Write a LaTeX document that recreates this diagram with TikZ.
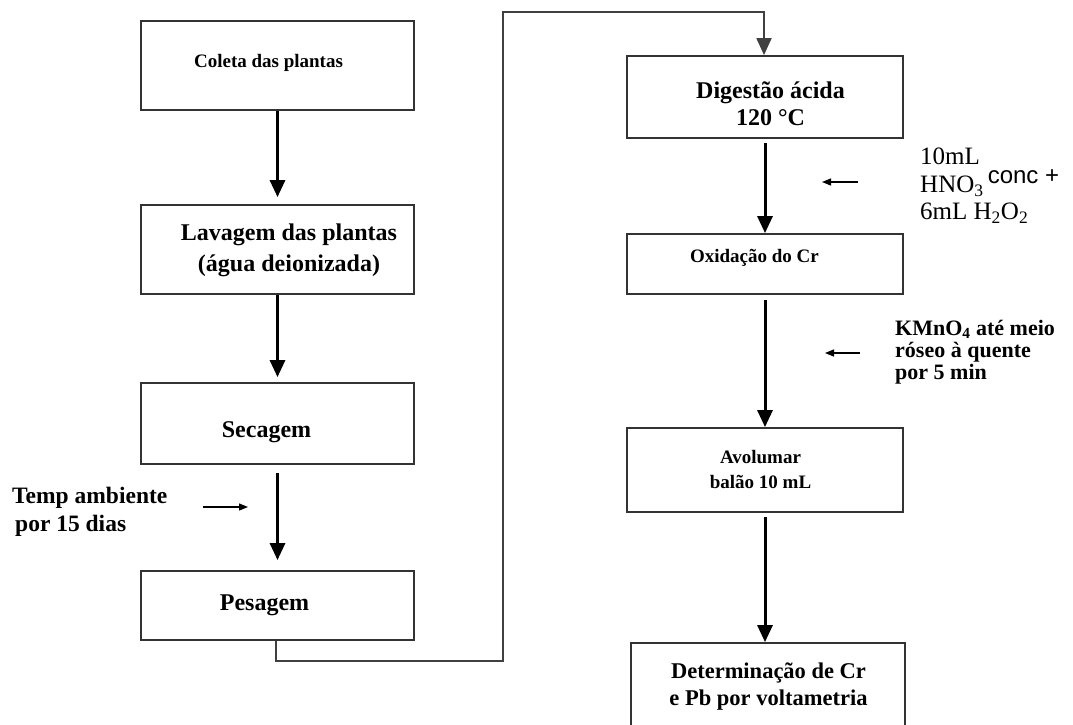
\documentclass[tikz,border=0pt]{standalone}
\usepackage{fontspec}
\setmainfont{Liberation Serif}
\newfontfamily\sansf{Liberation Sans}
\usetikzlibrary{arrows.meta}
\begin{document}
\begin{tikzpicture}[x=1pt,y=-1pt,
  box/.style={draw=black!80, line width=1.8pt, inner sep=0pt, minimum width=273pt},
  rbox/.style={box, minimum width=276pt},
  lbl/.style={inner sep=0pt, align=center},
  big/.style={lbl, font=\bfseries\fontsize{24}{31}\selectfont},
  small/.style={lbl, font=\bfseries\fontsize{19}{25}\selectfont},
  flow/.style={line width=3pt, -{Triangle[width=15pt,length=17pt]}},
  link/.style={draw=black!75, line width=1.8pt},
  side/.style={line width=1.3pt, -{Triangle[width=7pt,length=9pt]}},
  note/.style={align=left, inner sep=0pt, anchor=west}]
\clip (0,0) rectangle (1073,724);
\fill[white] (0,0) rectangle (1073,724);

% left column boxes
\node[box,minimum height=89pt] (coleta) at (277.5,65.5) {};
\node[box,minimum height=89pt] (lavagem) at (277.5,249.5) {};
\node[box,minimum height=81pt] (secagem) at (277.5,423.5) {};
\node[box,minimum height=69pt] (pesagem) at (277.5,605.5) {};
% left column texts
\node[small] (coletaT) at (268.5,63) {Coleta das plantas};
\node[big] (lavagemT) at (289,250.5) {Lavagem das plantas\\(água deionizada)};
\node[big] (secagemT) at (266.5,432) {Secagem};
\node[big] (pesagemT) at (264.5,605) {Pesagem};

% right column boxes
\node[rbox,minimum height=82pt] (digestao) at (765,97) {};
\node[rbox,minimum height=60pt] (oxid) at (765,264) {};
\node[rbox,minimum height=84pt] (avol) at (765,470) {};
\node[box,minimum width=274pt,minimum height=86pt] (det) at (768,686) {};
% right column texts
\node[lbl,font=\bfseries\fontsize{24}{27}\selectfont] (digestaoT) at (770.5,103.5) {Digestão ácida\\120 °C};
\node[small] (oxidT) at (754.5,258) {Oxidação do Cr};
\node[small] (avolT) at (760.5,469.5) {Avolumar\\balão 10 mL};
\node[lbl,font=\bfseries\fontsize{22.5}{27}\selectfont] (detT) at (768.5,686.5) {Determinação de Cr\\e Pb por voltametria};

% side notes
\node[note,font=\bfseries\fontsize{23.5}{28}\selectfont] (temp) at (12,512) {Temp ambiente\\\hspace{3pt}por 15 dias};
\node[note,font=\fontsize{25}{27.5}\selectfont] (hno) at (920,186) {10mL\\HNO\textsubscript{3}\,\raisebox{9pt}{\sansf\fontsize{24}{24}\selectfont conc +}\\6mL H\textsubscript{2}O\textsubscript{2}};
\node[note,font=\bfseries\fontsize{22}{22}\selectfont] (kmn) at (895,352) {\lineskiplimit=-20pt KMnO\textsubscript{4} até meio\\róseo à quente\\por 5 min};

% main flow
\draw[flow] (coleta.south) -- ([yshift=7pt]lavagem.north);
\draw[flow] (lavagem.south) -- ([yshift=5pt]secagem.north);
\draw[flow] ([yshift=-8pt]secagem.south) -- ([yshift=10pt]pesagem.north);
\draw[flow] ([yshift=-4pt]digestao.south) -- (oxid.north);
\draw[flow] ([yshift=-5pt]oxid.south) -- (avol.north);
\draw[flow] ([yshift=-4pt]avol.south) -- ([xshift=-3pt]det.north);

% connector between columns
\coordinate (c1) at (503,661);
\coordinate (c2) at (503,12);
\draw[link, -{Triangle[width=15pt,length=17pt]}] ([xshift=-1.5pt]pesagem.south) |- (c1) -- (c2) -| ([xshift=-1pt]digestao.north);

% side arrows
\coordinate (ta) at (203,507); \coordinate (tb) at (248,507);
\coordinate (ha) at (858,182); \coordinate (hb) at (822,182);
\coordinate (ka) at (860,353); \coordinate (kb) at (825,353);
\draw[side] (ta) -- (tb);
\draw[side] (ha) -- (hb);
\draw[side] (ka) -- (kb);
\end{tikzpicture}
\end{document}
